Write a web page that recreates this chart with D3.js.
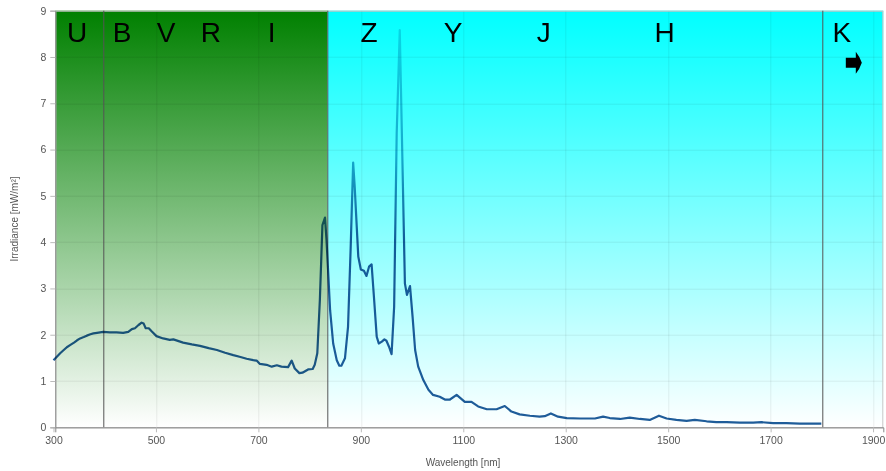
<!DOCTYPE html>
<html>
<head>
<meta charset="utf-8">
<script src="https://cdn.jsdelivr.net/npm/d3@7/dist/d3.min.js"></script>
<style>
  html, body { margin: 0; padding: 0; background: #ffffff; }
  svg { display: block; font-family: "Liberation Sans", Arial, sans-serif; }
</style>
</head>
<body>
<svg id="chart" width="886" height="471"></svg>
<script>
// ---------- data ----------
const wavelengths = [300,307,313,320,326,333,340,346,352,359,365,372,378,385,391,397,410,423,436,446,453,459,466,472,476,480,486,492,501,514,527,534,553,570,586,603,619,635,651,665,677,690,697,703,716,726,736,745,758,765,771,780,786,797,806,810,815,820,825,830,833,840,846,853,858,862,869,875,880,885,888,895,900,906,911,916,921,926,931,935,941,946,950,955,960,965,970,976,980,986,990,996,1001,1006,1012,1022,1032,1041,1054,1064,1074,1087,1103,1116,1129,1146,1165,1181,1194,1210,1230,1249,1259,1271,1285,1302,1328,1357,1373,1386,1406,1425,1445,1464,1482,1497,1516,1536,1552,1575,1594,1614,1640,1666,1682,1705,1731,1757,1777,1799];
const irradiance = [1.45,1.53,1.60,1.67,1.73,1.78,1.83,1.88,1.92,1.95,1.98,2.01,2.03,2.04,2.05,2.06,2.05,2.05,2.04,2.06,2.12,2.14,2.21,2.26,2.24,2.14,2.14,2.07,1.97,1.92,1.89,1.90,1.83,1.79,1.76,1.71,1.67,1.61,1.56,1.52,1.48,1.45,1.44,1.37,1.35,1.31,1.34,1.31,1.30,1.44,1.27,1.17,1.18,1.25,1.26,1.35,1.60,2.75,4.37,4.53,4.05,2.53,1.81,1.45,1.33,1.33,1.49,2.17,3.83,5.72,5.20,3.69,3.41,3.38,3.27,3.47,3.52,2.75,1.96,1.81,1.85,1.90,1.87,1.74,1.58,2.60,6.35,8.58,6.40,3.11,2.86,3.05,2.39,1.67,1.31,1.02,0.81,0.70,0.66,0.60,0.60,0.70,0.55,0.55,0.45,0.39,0.39,0.46,0.34,0.28,0.25,0.23,0.24,0.30,0.23,0.20,0.19,0.19,0.23,0.20,0.18,0.21,0.18,0.16,0.25,0.19,0.16,0.14,0.16,0.13,0.11,0.11,0.10,0.10,0.11,0.09,0.09,0.08,0.08,0.08];

const xTickValues = [300,500,700,900,1100,1300,1500,1700,1900];
const yTickValues = [0,1,2,3,4,5,6,7,8,9];
const xDomain = [303.5, 1920];
const yDomain = [0, 9];

const regionStarts = [303.5, 835];
const regionEnds   = [835, 1920];
const regionNames  = ["optical", "infrared"];
const dividers = [397, 835, 1800];

const bandNames   = ["U","B","V","R","I","Z","Y","J","H","K"];
const bandCenters = [346,434,520,607,726,916,1080,1257,1493,1839];

const xTitle = "Wavelength [nm]";
const yTitle = "Irradiance  [mW/m²]";

// ---------- layout ----------
const W = 886, H = 471;
const margin = {top: 10.7, right: 2.7, bottom: 43.7, left: 55.3};
const iw = W - margin.left - margin.right;
const ih = H - margin.top - margin.bottom;

const svg = d3.select("#chart");
const defs = svg.append("defs");

const regionColors = {optical: "#008000", infrared: "#00ffff"};
regionNames.forEach(n => {
  const g = defs.append("linearGradient").attr("id", "grad-" + n)
    .attr("x1", 0).attr("y1", 0).attr("x2", 0).attr("y2", 1);
  g.append("stop").attr("offset", "0%").attr("stop-color", regionColors[n]);
  g.append("stop").attr("offset", "100%").attr("stop-color", "#ffffff");
});

const x = d3.scaleLinear().domain(xDomain).range([0, iw]);
const y = d3.scaleLinear().domain(yDomain).range([ih, 0]);

// line gradient in data space
const lg = defs.append("linearGradient").attr("id", "lineGrad")
  .attr("gradientUnits", "userSpaceOnUse")
  .attr("x1", 0).attr("x2", 0).attr("y1", y(0)).attr("y2", y(9));
[[0, "#1f5c99"], [0.45, "#1f5c99"], [0.65, "#38aacd"], [1, "#7fdde8"]].forEach(([o, c]) =>
  lg.append("stop").attr("offset", o).attr("stop-color", c));

const g = svg.append("g").attr("transform", `translate(${margin.left},${margin.top})`);

// region fills
g.selectAll("rect.region").data(regionNames).join("rect")
  .attr("class", "region")
  .attr("x", (d, i) => x(regionStarts[i]))
  .attr("width", (d, i) => x(regionEnds[i]) - x(regionStarts[i]))
  .attr("y", y(yDomain[1]))
  .attr("height", y(yDomain[0]) - y(yDomain[1]))
  .attr("fill", d => `url(#grad-${d})`);

// grid
g.append("g").selectAll("line").data(yTickValues).join("line")
  .attr("x1", 0).attr("x2", iw)
  .attr("y1", d => Math.round(y(d)) + 0.5).attr("y2", d => Math.round(y(d)) + 0.5)
  .attr("stroke", "rgba(0,0,0,0.07)");
g.append("g").selectAll("line").data(xTickValues.filter(v => v >= xDomain[0])).join("line")
  .attr("y1", 0).attr("y2", ih)
  .attr("x1", d => Math.round(x(d)) + 0.5).attr("x2", d => Math.round(x(d)) + 0.5)
  .attr("stroke", "rgba(0,0,0,0.07)");

// border
g.append("rect").attr("x", 0.5).attr("y", 0.5).attr("width", iw - 1).attr("height", ih)
  .attr("fill", "none").attr("stroke", "#c8c8c8");

// dividers
g.append("g").selectAll("line").data(dividers).join("line")
  .attr("x1", d => Math.round(x(d)) + 0.5).attr("x2", d => Math.round(x(d)) + 0.5)
  .attr("y1", 0).attr("y2", ih)
  .attr("stroke", "#555").attr("stroke-width", 1);

// axes
const xAxis = g.append("g").attr("transform", `translate(0,${ih})`)
  .call(d3.axisBottom(x).tickValues(xTickValues).tickSize(5).tickPadding(4).tickFormat(d3.format("d")));
const yAxis = g.append("g")
  .call(d3.axisLeft(y).tickValues(yTickValues).tickSize(5).tickPadding(4).tickFormat(d3.format("d")));
[xAxis, yAxis].forEach(a => {
  a.select(".domain").attr("stroke", "#888");
  a.selectAll(".tick line").attr("stroke", "#bbb");
  a.selectAll(".tick text").attr("fill", "#555").style("font-size", "10.5px")
    .style("font-family", "'Liberation Sans', Arial, sans-serif");
});

// line
const line = d3.line().x((d, i) => x(wavelengths[i])).y(d => y(d)).curve(d3.curveLinear);
g.append("path").datum(irradiance)
  .attr("d", line)
  .attr("fill", "none")
  .attr("stroke", "url(#lineGrad)")
  .attr("stroke-width", 2.2)
  .attr("stroke-linejoin", "round")
  .style("mix-blend-mode", "multiply");

// band labels
g.append("g").selectAll("text").data(bandNames).join("text")
  .attr("x", (d, i) => x(bandCenters[i]))
  .attr("y", 31)
  .attr("text-anchor", "middle")
  .style("font-size", "28px")
  .attr("fill", "#000")
  .text(d => d);

// arrow next to K
const kx = x(bandCenters[bandNames.indexOf("K")]);
const ay = 52;
g.append("path")
  .attr("d", `M${kx + 4},${ay - 5} L${kx + 14},${ay - 5} L${kx + 14},${ay - 11} Q${kx + 18},${ay - 6} ${kx + 20},${ay} Q${kx + 18},${ay + 6} ${kx + 14},${ay + 11} L${kx + 14},${ay + 5} L${kx + 4},${ay + 5} Z`)
  .attr("fill", "#000");

// titles
svg.append("text")
  .attr("x", 463).attr("y", 466)
  .attr("text-anchor", "middle").attr("fill", "#555")
  .style("font-size", "10px").text(xTitle);
svg.append("text")
  .attr("transform", `translate(18,${margin.top + ih / 2}) rotate(-90)`)
  .attr("text-anchor", "middle").attr("fill", "#555")
  .style("font-size", "10px").text(yTitle);
</script>
</body>
</html>
